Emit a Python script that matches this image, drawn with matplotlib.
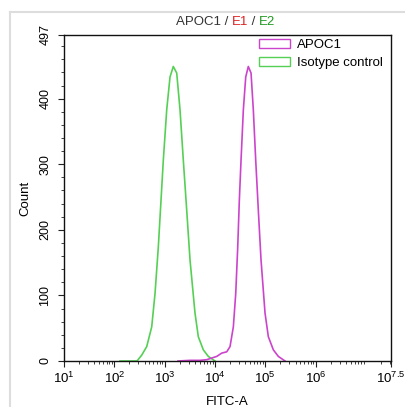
import numpy as np
import matplotlib
matplotlib.use("Agg")
import matplotlib.pyplot as plt
from matplotlib.lines import Line2D
from matplotlib.patches import Patch

plt.rcParams['font.family'] = ['Liberation Sans', 'DejaVu Sans']
plt.rcParams['mathtext.fontset'] = 'custom'
plt.rcParams['mathtext.rm'] = 'Liberation Sans'
plt.rcParams['mathtext.it'] = 'Liberation Sans'

# Isotype control (green)
iso_fitc = [130, 163, 283, 351, 441, 554, 645, 750, 848, 942, 1101, 1281, 1488,
            1740, 2024, 2354, 2749, 3199, 4019, 4677, 5880, 7390, 10040]
iso_count = [0, 0, 0, 9, 22, 52, 103, 174, 245, 306, 383, 433, 449,
             439, 383, 306, 230, 154, 73, 37, 17, 7, 0]

# APOC1 (magenta)
apoc_fitc = [1845, 3200, 5060, 6870, 10860, 13650, 17170, 19970, 23230, 25930,
             28400, 30570, 33030, 36730, 40960, 46100, 52230, 57980, 64700,
             72900, 82500, 99100, 115300, 145000, 182100, 247500]
apoc_count = [0, 1, 1, 2, 7, 12, 14, 22, 52, 103, 174, 245, 306, 383, 433, 449,
              439, 383, 306, 230, 154, 73, 37, 17, 7, 0]

xticks = [1e1, 1e2, 1e3, 1e4, 1e5, 1e6, 10**7.5]
xticklabels = ['$10^{1}$', '$10^{2}$', '$10^{3}$', '$10^{4}$', '$10^{5}$', '$10^{6}$', '$10^{7.5}$']
yticks = [0, 100, 200, 300, 400, 497]

MAG = '#cc44cc'
GRN = '#55d055'

fig = plt.figure(figsize=(4.06, 4.07), dpi=100)
W, H = 406, 407
ax = fig.add_axes([64 / W, 1 - 361 / H, (391 - 64) / W, (361 - 35) / H])

ax.plot(iso_fitc, iso_count, color=GRN, lw=1.2)
ax.plot(apoc_fitc, apoc_count, color=MAG, lw=1.2)

ax.set_xscale('log')
ax.set_xlim(1e1, 10**7.5)
ax.set_ylim(0, 497)
ax.set_xticks(xticks)
ax.set_xticklabels(xticklabels, fontsize=9.5)
ax.xaxis.set_minor_locator(matplotlib.ticker.LogLocator(base=10, subs=np.arange(2, 10)))
ax.xaxis.set_minor_formatter(matplotlib.ticker.NullFormatter())
ax.set_yticks(yticks)
ax.set_yticklabels([str(v) for v in yticks], fontsize=9, rotation=90, va='center')
ax.set_yticks(np.arange(20, 497, 20), minor=True)
ax.tick_params(which='major', length=4, width=0.8, color='#222222')
ax.tick_params(axis='x', which='major', pad=3)
ax.tick_params(axis='y', which='major', pad=5)
ax.tick_params(which='minor', length=2, width=0.6, color='#222222')
for sp in ax.spines.values():
    sp.set_linewidth(1.0)
    sp.set_color('#111111')

ax.set_xlabel('FITC-A', fontsize=9.5, labelpad=7)
ax.set_ylabel('Count', fontsize=9.5, labelpad=6)

handles = [Patch(facecolor='white', edgecolor=MAG, lw=1.0, label='APOC1'),
           Patch(facecolor='white', edgecolor=GRN, lw=1.0, label='Isotype control')]
leg = fig.legend(handles=handles, loc='upper left', frameon=False, fontsize=9.5,
                 handlelength=2.35, handleheight=0.7, handletextpad=0.5,
                 borderpad=0, borderaxespad=0, labelspacing=0.45,
                 bbox_to_anchor=(259 / W, 1 - 39 / H))

# multicolour title
t1 = fig.text(176 / W, 1 - 22 / H, 'APOC1 / ', color='#333333', fontsize=9.5, va='center', ha='left')
t2 = ax.annotate('E1', xy=(1, 0), xycoords=t1, va='bottom', ha='left', color='#dd2222', fontsize=9.5)
t3 = ax.annotate(' / ', xy=(1, 0), xycoords=t2, va='bottom', ha='left', color='#333333', fontsize=9.5)
t4 = ax.annotate('E2', xy=(1, 0), xycoords=t3, va='bottom', ha='left', color='#229922', fontsize=9.5)

# light grey frame
fig.add_artist(Line2D([10 / W, 10 / W], [0, 1 - 12 / H], transform=fig.transFigure, color='#dddddd', lw=1.5))
fig.add_artist(Line2D([10 / W, 1], [1 - 12 / H, 1 - 12 / H], transform=fig.transFigure, color='#dddddd', lw=1.5))

fig.savefig('out.png', dpi=100)
